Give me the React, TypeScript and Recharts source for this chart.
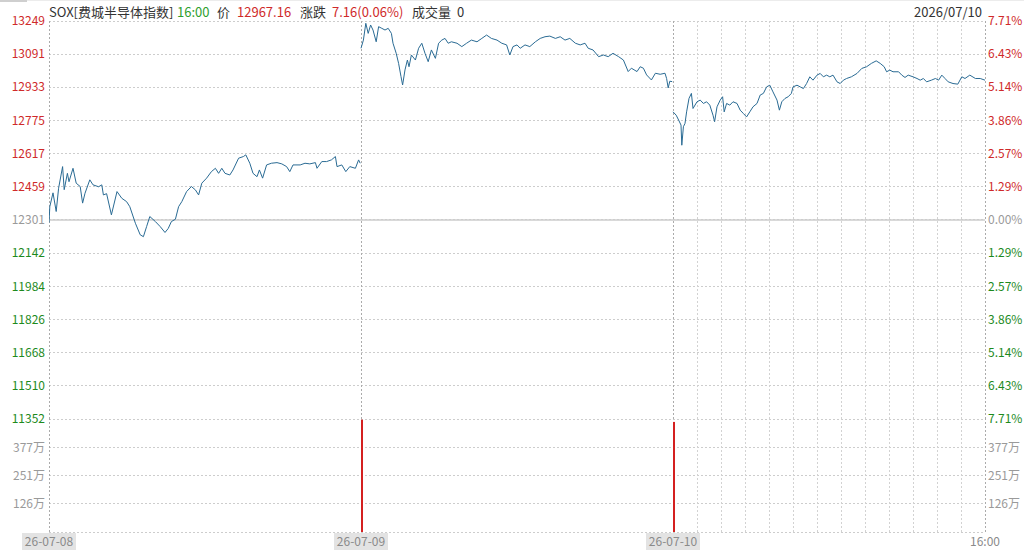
import React from 'react';
import { ComposedChart, Line, Bar, XAxis, YAxis, CartesianGrid, ReferenceLine } from 'recharts';

const FONT = "'Noto Sans CJK SC', 'Noto Sans', sans-serif";
const RED = '#cf2a2a';
const VOLRED = '#d42020';
const GREEN = '#1d8a1d';
const GRAY = '#9a9a9a';
const LINE = '#2a6b94';
const BASE = 12301;

// minutes from 26-07-08 09:30 (390 minutes per session)
const day1Min = [0, 1, 5, 9, 12, 17, 19, 23, 25, 30, 34, 39, 42, 45, 51, 55, 62, 66, 68, 72, 78, 85, 91, 97, 101, 108, 114, 118, 122, 126, 133, 139, 145, 149, 153, 158, 162, 166, 172, 178, 183, 187, 191, 197, 203, 208, 212, 216, 220, 226, 230, 237, 243, 246, 251, 255, 260, 263, 267, 272, 278, 285, 291, 297, 301, 305, 314, 320, 326, 333, 335, 341, 347, 353, 358, 360, 366, 371, 376, 383, 387, 389];
const day1Price = [12288, 12364, 12430, 12341, 12452, 12555, 12445, 12523, 12483, 12547, 12476, 12460, 12381, 12428, 12492, 12468, 12459, 12468, 12420, 12426, 12325, 12436, 12404, 12388, 12364, 12285, 12230, 12221, 12269, 12317, 12293, 12269, 12241, 12260, 12293, 12304, 12364, 12388, 12436, 12460, 12444, 12420, 12476, 12500, 12531, 12547, 12523, 12547, 12523, 12515, 12539, 12595, 12603, 12611, 12571, 12523, 12507, 12539, 12500, 12563, 12571, 12574, 12568, 12555, 12531, 12563, 12563, 12571, 12568, 12574, 12547, 12579, 12579, 12587, 12603, 12555, 12563, 12531, 12555, 12547, 12587, 12571];

const day2Min = [390, 393, 396, 399, 402, 405, 409, 412, 416, 420, 424, 428, 430, 434, 437, 440, 442, 445, 448, 450, 453, 458, 462, 466, 470, 474, 478, 483, 487, 491, 495, 499, 503, 510, 516, 522, 528, 535, 541, 547, 553, 560, 566, 572, 576, 580, 585, 589, 595, 601, 608, 614, 620, 626, 633, 639, 645, 651, 658, 664, 670, 674, 680, 687, 693, 699, 705, 712, 718, 724, 728, 735, 739, 743, 747, 753, 758, 764, 770, 772, 774, 776, 779];
const day2Price = [13119, 13158, 13238, 13190, 13230, 13206, 13150, 13222, 13214, 13206, 13214, 13190, 13143, 13095, 13047, 12984, 12944, 13016, 13063, 13031, 13087, 13063, 13119, 13143, 13095, 13055, 13111, 13071, 13143, 13158, 13166, 13143, 13150, 13143, 13127, 13143, 13158, 13150, 13166, 13182, 13166, 13158, 13143, 13135, 13087, 13127, 13135, 13119, 13135, 13127, 13150, 13166, 13174, 13177, 13166, 13174, 13158, 13166, 13143, 13135, 13143, 13119, 13111, 13079, 13087, 13079, 13095, 13079, 13063, 13008, 13024, 13008, 13031, 13024, 12992, 12968, 13000, 12995, 13000, 12975, 12930, 12962, 12960];

const day3Min = [780, 784, 787, 790, 791, 793, 795, 797, 800, 803, 805, 810, 814, 818, 822, 826, 830, 832, 835, 839, 842, 844, 847, 851, 855, 860, 864, 868, 872, 876, 880, 885, 889, 893, 897, 901, 905, 910, 913, 916, 920, 924, 928, 930, 935, 939, 943, 947, 951, 955, 960, 964, 968, 972, 976, 980, 985, 989, 993, 997, 1003, 1010, 1016, 1022, 1028, 1034, 1039, 1044, 1047, 1051, 1055, 1062, 1066, 1070, 1074, 1080, 1085, 1089, 1093, 1097, 1103, 1108, 1112, 1116, 1120, 1124, 1130, 1136, 1141, 1145, 1151, 1158, 1164, 1170];
const day3Price = [12816, 12800, 12777, 12753, 12657, 12745, 12761, 12816, 12880, 12904, 12832, 12864, 12872, 12856, 12864, 12848, 12800, 12769, 12840, 12872, 12888, 12816, 12856, 12848, 12864, 12856, 12824, 12808, 12792, 12816, 12840, 12856, 12896, 12904, 12935, 12943, 12911, 12872, 12824, 12864, 12880, 12888, 12904, 12935, 12943, 12935, 12927, 12951, 12983, 12967, 12991, 12999, 12983, 12991, 12983, 12991, 12959, 12951, 12967, 12975, 12983, 12999, 13023, 13031, 13047, 13059, 13047, 13031, 13007, 13015, 13007, 13007, 12991, 12980, 12991, 12983, 12975, 12967, 12975, 12959, 12967, 12975, 12967, 12991, 12975, 12959, 12951, 12948, 12983, 12975, 12991, 12975, 12975, 12967];

const priceTicks = [13249, 13091, 12933, 12775, 12617, 12459, 12301, 12142, 11984, 11826, 11668, 11510, 11352];
const pctLabels = ['7.71%', '6.43%', '5.14%', '3.86%', '2.57%', '1.29%', '0.00%', '1.29%', '2.57%', '3.86%', '5.14%', '6.43%', '7.71%'];

const volTicks = [0, 126, 251, 377];
const volLabels = ['', '126万', '251万', '377万'];
const volMin = [390, 780];
const volValue = [500, 490];

const dateTicks = [0, 390, 780, 1170];
const dateLabels = ['26-07-08', '26-07-09', '26-07-10', '16:00'];
const dayLines = [0, 390, 780, 1170];
const edgeLines = [0, 1170];
const halfHourLines = [810, 840, 870, 900, 930, 960, 990, 1020, 1050, 1080, 1110, 1140];

const priceData: any[] = [];
day1Min.forEach((t, i) => priceData.push({ t, d1: day1Price[i] }));
day2Min.forEach((t, i) => priceData.push({ t, d2: day2Price[i] }));
day3Min.forEach((t, i) => priceData.push({ t, d3: day3Price[i] }));

const volData = volMin.map((t, i) => ({ t, v: volValue[i] }));

const colorOf = (v: number) => (v > BASE ? RED : v < BASE ? GREEN : GRAY);

const LeftPriceTick = (p: any) => {
  const v = p.payload.value;
  return (
    <text x={p.x} y={p.y} dy="0.35em" textAnchor="end" fill={colorOf(v)} fontSize={12} fontFamily={FONT}>
      {v}
    </text>
  );
};
const RightPctTick = (p: any) => {
  const v = p.payload.value;
  const idx = priceTicks.indexOf(v);
  return (
    <text x={p.x} y={p.y} dy="0.35em" textAnchor="start" fill={colorOf(v)} fontSize={12} fontFamily={FONT}>
      {pctLabels[idx]}
    </text>
  );
};
const VolTick = (anchor: 'start' | 'end') => (p: any) => {
  const idx = volTicks.indexOf(p.payload.value);
  return (
    <text x={p.x} y={p.y} dy="0.35em" textAnchor={anchor} fill={GRAY} fontSize={12} fontFamily={FONT}>
      {volLabels[idx]}
    </text>
  );
};
const DateTick = (p: any) => {
  const idx = dateTicks.indexOf(p.payload.value);
  const label = dateLabels[idx];
  const boxed = idx < 3;
  return (
    <g>
      {boxed && <rect x={p.x - 27} y={p.y + 1} width={54} height={17} fill="#e3e3e3" />}
      <text x={p.x} y={p.y + 9.5} dy="0.35em" textAnchor="middle" fill="#8a8a8a" fontSize={12} fontFamily={FONT}>
        {label}
      </text>
    </g>
  );
};

const VolShape = (p: any) => {
  const cx = Math.floor(p.x + p.width / 2);
  return <rect x={cx} y={p.y} width={2} height={p.height} fill={VOLRED} stroke="none" />;
};

const vLines = (days: number[]) => [
  ...days.map((x) => (
    <ReferenceLine key={'d' + x} x={x} xAxisId="x" yAxisId="L" stroke="#ababab" strokeDasharray="2 2" shapeRendering="crispEdges" />
  )),
  ...halfHourLines.map((x) => (
    <ReferenceLine key={'h' + x} x={x} xAxisId="x" yAxisId="L" stroke="#d2d2d2" strokeDasharray="2 2" shapeRendering="crispEdges" />
  )),
];

const headerItems: { text: string; x: number; color: string }[] = [
  { text: 'SOX[费城半导体指数]', x: 49, color: '#333' },
  { text: '16:00', x: 177, color: '#2ea02e' },
  { text: '价', x: 217, color: '#333' },
  { text: '12967.16', x: 237, color: RED },
  { text: '涨跌', x: 300, color: '#333' },
  { text: '7.16(0.06%)', x: 332, color: RED },
  { text: '成交量', x: 412, color: '#333' },
  { text: '0', x: 457, color: '#333' },
];

export default function App() {
  return (
    <div style={{ position: 'absolute', left: 0, top: 0, width: 1024, height: 551, background: '#fff', fontFamily: FONT, overflow: 'hidden' }}>
      <div style={{ position: 'absolute', left: 0, top: 0, width: 27, height: 2, background: '#cfcfcf' }} />
      <div style={{ position: 'absolute', left: 27, top: 0, width: 997, height: 1, background: '#ececec' }} />
      {headerItems.map((h) => (
        <div key={h.text} style={{ position: 'absolute', left: h.x, top: 2, fontSize: 13, lineHeight: '20px', color: h.color, whiteSpace: 'nowrap' }}>
          {h.text}
        </div>
      ))}
      <div style={{ position: 'absolute', right: 1024 - 982, top: 2, fontSize: 13, lineHeight: '20px', color: '#333', whiteSpace: 'nowrap' }}>
        2026/07/10
      </div>

      <div style={{ position: 'absolute', left: 0, top: 0 }}>
        <ComposedChart width={1024} height={432} data={priceData} margin={{ top: 21, right: 0, bottom: 13, left: 0 }}>
          <XAxis xAxisId="x" dataKey="t" type="number" domain={[0, 1170]} hide allowDataOverflow />
          <YAxis yAxisId="L" orientation="left" width={49} domain={[11352, 13249]} ticks={priceTicks} interval={0} tickLine={false} axisLine={false} tickSize={0} tickMargin={4} tick={LeftPriceTick} allowDataOverflow />
          <YAxis yAxisId="R" orientation="right" width={39} domain={[11352, 13249]} ticks={priceTicks} interval={0} tickLine={false} axisLine={false} tickSize={0} tickMargin={3} tick={RightPctTick} allowDataOverflow />
          <CartesianGrid xAxisId="x" yAxisId="L" vertical={false} stroke="#cdcdcd" strokeDasharray="2 2" shapeRendering="crispEdges" />
          {vLines(dayLines)}
          <ReferenceLine xAxisId="x" yAxisId="L" y={BASE} stroke="#cccccc" strokeWidth={1.5} />
          <Line xAxisId="x" yAxisId="L" dataKey="d1" type="linear" stroke={LINE} strokeWidth={1} dot={false} isAnimationActive={false} connectNulls={false} />
          <Line xAxisId="x" yAxisId="L" dataKey="d2" type="linear" stroke={LINE} strokeWidth={1} dot={false} isAnimationActive={false} connectNulls={false} />
          <Line xAxisId="x" yAxisId="L" dataKey="d3" type="linear" stroke={LINE} strokeWidth={1} dot={false} isAnimationActive={false} connectNulls={false} />
        </ComposedChart>
      </div>

      <div style={{ position: 'absolute', left: 0, top: 419 }}>
        <ComposedChart width={1024} height={132} data={volData} margin={{ top: 0, right: 0, bottom: 0, left: 0 }}>
          <XAxis xAxisId="x" dataKey="t" type="number" domain={[0, 1170]} ticks={dateTicks} interval={0} height={19} tickLine={false} axisLine={false} tickSize={0} tickMargin={0} tick={DateTick} allowDataOverflow />
          <YAxis yAxisId="L" orientation="left" width={49} domain={[0, 503]} ticks={volTicks} interval={0} tickLine={false} axisLine={false} tickSize={0} tickMargin={4} tick={VolTick('end')} allowDataOverflow />
          <YAxis yAxisId="R" orientation="right" width={39} domain={[0, 503]} ticks={volTicks} interval={0} tickLine={false} axisLine={false} tickSize={0} tickMargin={3} tick={VolTick('start')} allowDataOverflow />
          <CartesianGrid xAxisId="x" yAxisId="L" vertical={false} stroke="#cdcdcd" strokeDasharray="2 2" shapeRendering="crispEdges" />
          {vLines(edgeLines)}
          <Bar xAxisId="x" yAxisId="L" dataKey="v" fill={VOLRED} barSize={2} shape={VolShape} isAnimationActive={false} />
        </ComposedChart>
      </div>
    </div>
  );
}
